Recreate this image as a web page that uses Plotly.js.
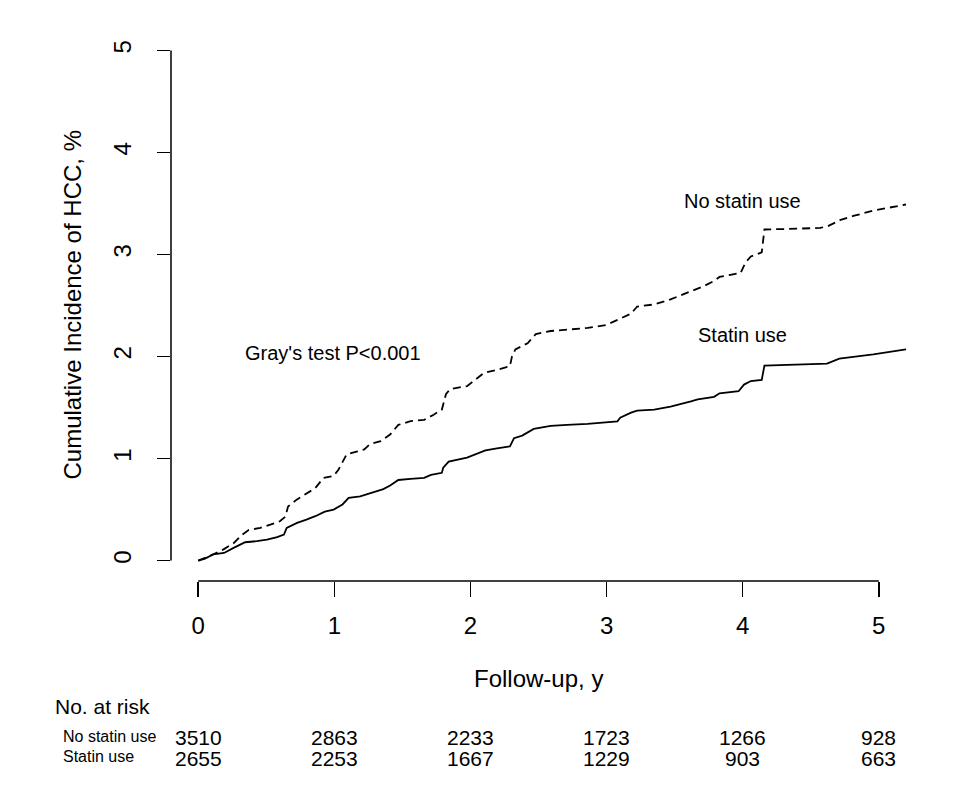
<!DOCTYPE html>
<html>
<head>
<meta charset="utf-8">
<script src="https://cdn.plot.ly/plotly-3.0.1.min.js"></script>
<style>html,body{margin:0;padding:0;background:#fff;}#chart{width:973px;height:792px;}</style>
</head>
<body>
<div id="chart"></div>
<script>
// ---- data ----
const noStatinT = [0, 0.076, 0.186, 0.26, 0.32, 0.37, 0.456, 0.53, 0.60, 0.64,
  0.66, 0.726, 0.80, 0.86, 0.92, 0.995, 1.03, 1.09, 1.17, 1.22,
  1.26, 1.34, 1.41, 1.47, 1.56, 1.66, 1.73, 1.79, 1.82, 1.85,
  1.975, 2.05, 2.10, 2.195, 2.29, 2.305, 2.33, 2.42, 2.48, 2.59,
  2.71, 2.86, 3.00, 3.10, 3.18, 3.225, 3.35, 3.47, 3.59, 3.715,
  3.79, 3.83, 3.91, 3.985, 4.02, 4.06, 4.14, 4.16, 4.33, 4.57,
  4.63, 4.72, 4.82, 4.96, 5.2];
const noStatinY = [0, 0.04, 0.11, 0.17, 0.25, 0.30, 0.32, 0.35, 0.385, 0.43,
  0.53, 0.60, 0.66, 0.71, 0.81, 0.83, 0.89, 1.04, 1.07, 1.09,
  1.14, 1.17, 1.235, 1.33, 1.366, 1.38, 1.43, 1.48, 1.63, 1.68,
  1.71, 1.79, 1.84, 1.87, 1.905, 2.00, 2.07, 2.13, 2.22, 2.25,
  2.265, 2.28, 2.31, 2.37, 2.42, 2.49, 2.51, 2.56, 2.62, 2.69,
  2.74, 2.78, 2.80, 2.82, 2.92, 2.98, 3.02, 3.245, 3.25, 3.26,
  3.28, 3.34, 3.38, 3.43, 3.49];

const statinT = [0, 0.05, 0.11, 0.19, 0.26, 0.345, 0.43, 0.505, 0.58, 0.63,
  0.65, 0.726, 0.79, 0.86, 0.93, 0.995, 1.06, 1.105, 1.19, 1.26,
  1.36, 1.41, 1.47, 1.56, 1.66, 1.71, 1.79, 1.80, 1.84, 1.975,
  2.04, 2.11, 2.195, 2.29, 2.32, 2.38, 2.465, 2.59, 2.71, 2.86,
  3.08, 3.10, 3.18, 3.225, 3.35, 3.47, 3.62, 3.67, 3.79, 3.83,
  3.97, 4.01, 4.06, 4.14, 4.16, 4.40, 4.62, 4.71, 4.96, 5.2];
const statinY = [0, 0.02, 0.06, 0.075, 0.125, 0.18, 0.19, 0.205, 0.23, 0.255,
  0.32, 0.37, 0.40, 0.435, 0.48, 0.50, 0.55, 0.615, 0.63, 0.66,
  0.70, 0.735, 0.79, 0.80, 0.81, 0.84, 0.86, 0.91, 0.97, 1.01,
  1.04, 1.08, 1.10, 1.12, 1.20, 1.225, 1.29, 1.32, 1.33, 1.34,
  1.365, 1.40, 1.45, 1.47, 1.48, 1.51, 1.56, 1.58, 1.605, 1.64,
  1.66, 1.725, 1.76, 1.77, 1.91, 1.92, 1.93, 1.98, 2.02, 2.07];

const xTicks = [0, 1, 2, 3, 4, 5];
const yTicks = [0, 1, 2, 3, 4, 5];
const groupNames = ["No statin use", "Statin use"];
const atRiskNoStatin = [3510, 2863, 2233, 1723, 1266, 928];
const atRiskStatin = [2655, 2253, 1667, 1229, 903, 663];

// ---- layout helpers ----
const FONT = "Liberation Sans, Arial, Helvetica, sans-serif";
const L = 171, R = 67, T = 30, B = 211, W = 973, H = 792;
const plotH = H - T - B;
const pw = W - L - R;
const pyToPaper = py => (H - B - py) / plotH;
const pxToPaper = px => (px - L) / pw;

const traces = [
  {x: noStatinT, y: noStatinY, type: "scatter", mode: "lines", name: groupNames[0],
   line: {color: "#000", width: 1.8, dash: "8px,5px"}, hoverinfo: "skip"},
  {x: statinT, y: statinY, type: "scatter", mode: "lines", name: groupNames[1],
   line: {color: "#000", width: 1.8}, hoverinfo: "skip"}
];

const ann = [];
function A(o) { ann.push(Object.assign({showarrow: false, xanchor: "center", yanchor: "middle"}, o)); }
// curve labels & test text
A({text: "No statin use", x: 4.0, y: 3.52, xref: "x", yref: "y",
  font: {family: FONT, size: 20, color: "#000"}});
A({text: "Statin use", x: 4.0, y: 2.21, xref: "x", yref: "y",
  font: {family: FONT, size: 20, color: "#000"}});
A({text: "Gray's test P<0.001", x: 0.99, y: 2.03, xref: "x", yref: "y",
  font: {family: FONT, size: 20, color: "#000"}});
// axis titles
A({text: "Follow-up, y", x: 2.5, y: pyToPaper(678), xref: "x", yref: "paper",
  font: {family: FONT, size: 24, color: "#000"}});
A({text: "Cumulative Incidence of HCC, %", x: pxToPaper(72), y: 2.5, xref: "paper", yref: "y",
  textangle: -90, font: {family: FONT, size: 24, color: "#000"}});
// number at risk table
A({text: "No. at risk", x: pxToPaper(53), y: pyToPaper(706), xref: "paper", yref: "paper",
  xanchor: "left", font: {family: FONT, size: 21, color: "#000"}});
const rowsPy = [737, 758];
const rows = [atRiskNoStatin, atRiskStatin];
groupNames.forEach((g, i) => {
  A({text: g, x: pxToPaper(61), y: pyToPaper(rowsPy[i] - 1), xref: "paper", yref: "paper",
    xanchor: "left", font: {family: FONT, size: 16, color: "#000"}});
  rows[i].forEach((v, j) => {
    A({text: String(v), x: xTicks[j], y: pyToPaper(rowsPy[i]), xref: "x", yref: "paper",
      font: {family: FONT, size: 21, color: "#000"}});
  });
});

const layout = {
  width: W, height: H,
  margin: {l: L, r: R, t: T, b: B},
  paper_bgcolor: "#fff", plot_bgcolor: "#fff",
  showlegend: false,
  xaxis: {range: [-0.2, 5.2], tickvals: xTicks, ticktext: xTicks.map(String),
    showgrid: false, zeroline: false, showline: false,
    ticks: "outside", ticklen: 15, tickwidth: 1.5, tickcolor: "#000",
    ticklabelstandoff: 8,
    tickfont: {family: FONT, size: 24, color: "#000"}},
  yaxis: {range: [-0.2, 5.2], tickvals: yTicks, ticktext: yTicks.map(String),
    showgrid: false, zeroline: false, showline: false,
    ticks: "outside", ticklen: 13, tickwidth: 1.5, tickcolor: "#000",
    tickangle: -90, ticklabelstandoff: 16,
    tickfont: {family: FONT, size: 24, color: "#000"}},
  shapes: [
    {type: "line", xref: "paper", yref: "y", x0: 0, x1: 0, y0: yTicks[0], y1: yTicks[yTicks.length - 1],
     line: {color: "#000", width: 1.5}},
    {type: "line", xref: "x", yref: "paper", x0: xTicks[0], x1: xTicks[xTicks.length - 1], y0: 0, y1: 0,
     line: {color: "#000", width: 1.5}}
  ],
  annotations: ann
};

Plotly.newPlot("chart", traces, layout, {displayModeBar: false, staticPlot: true});
</script>
</body>
</html>
